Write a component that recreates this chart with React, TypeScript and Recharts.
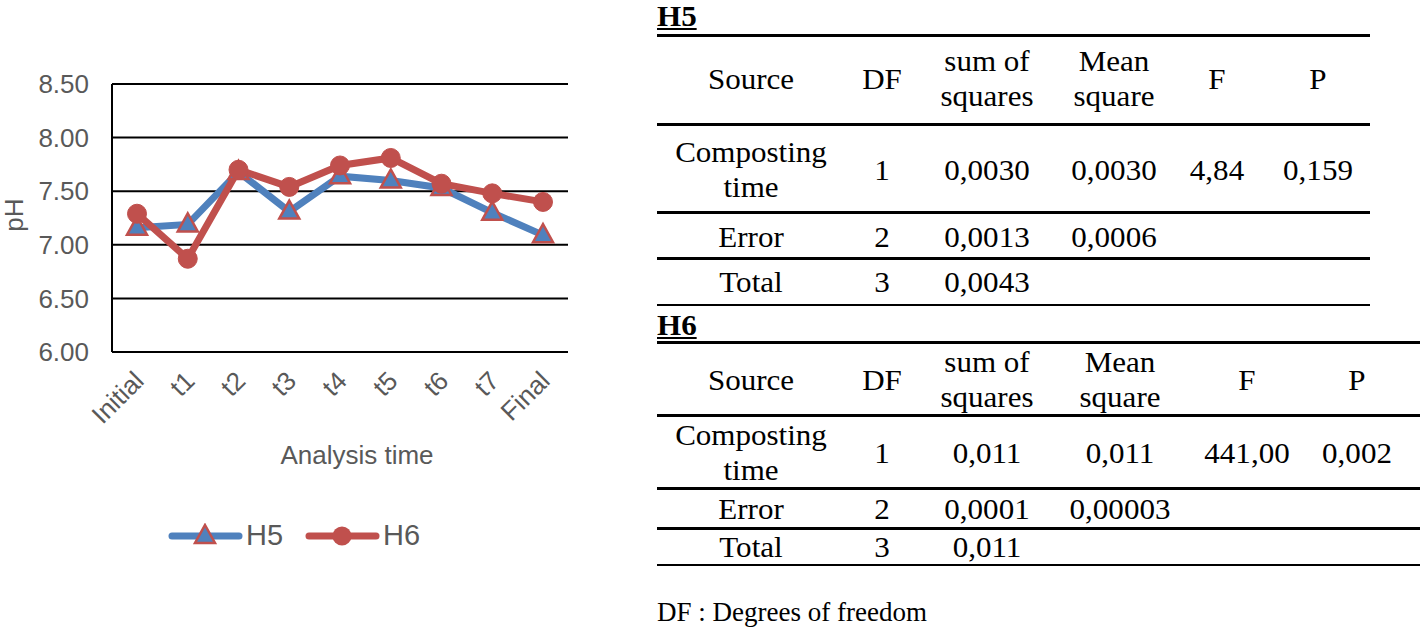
import { LineChart, Line, XAxis, YAxis, CartesianGrid, Label } from 'recharts'

// pH over composting time
const CATEGORIES = ['Initial', 't1', 't2', 't3', 't4', 't5', 't6', 't7', 'Final']
const H5_VALUES = [7.16, 7.19, 7.68, 7.31, 7.64, 7.6, 7.53, 7.3, 7.09]
const H6_VALUES = [7.29, 6.87, 7.7, 7.54, 7.74, 7.81, 7.57, 7.48, 7.4]
const Y_TICKS = [6, 6.5, 7, 7.5, 8, 8.5]

// ANOVA tables
const TABLE_HEADER = ['Source', 'DF', 'sum of\nsquares', 'Mean\nsquare', 'F', 'P']
const H5_ROWS = [
  ['Composting\ntime', '1', '0,0030', '0,0030', '4,84', '0,159'],
  ['Error', '2', '0,0013', '0,0006', '', ''],
  ['Total', '3', '0,0043', '', '', ''],
]
const H6_ROWS = [
  ['Composting\ntime', '1', '0,011', '0,011', '441,00', '0,002'],
  ['Error', '2', '0,0001', '0,00003', '', ''],
  ['Total', '3', '0,011', '', '', ''],
]

const BLUE = '#4F81BD'
const RED = '#C0504D'
const GREY = '#595959'
const SANS = '"Liberation Sans", Arial, sans-serif'
const SERIF = '"Liberation Serif", "Times New Roman", serif'

function XTick({ x, y, payload }: any) {
  return (
    <g transform={`translate(${x + 2},${y + 16}) rotate(-45)`}>
      <text textAnchor="end" dy="0.35em" fill={GREY} fontSize={26} fontFamily={SANS}>
        {payload.value}
      </text>
    </g>
  )
}

function TriangleDot({ cx, cy }: any) {
  if (cx == null || cy == null) return null
  return (
    <polygon
      points={`${cx},${cy - 11} ${cx + 10},${cy + 7} ${cx - 10},${cy + 7}`}
      fill={BLUE}
      stroke={RED}
      strokeWidth={2.5}
    />
  )
}

function AxisTitle(props: any) {
  const { x, y, width } = props.viewBox
  return (
    <text x={x + width / 2 + 17} y={y + 103} textAnchor="middle" dominantBaseline="central"
      fill={GREY} fontSize={26} fontFamily={SANS}>
      Analysis time
    </text>
  )
}

function PhTitle(props: any) {
  const { y, height } = props.viewBox
  const cy = y + height / 2 - 3
  return (
    <text x={14} y={cy} transform={`rotate(-90, 14, ${cy})`} textAnchor="middle"
      dominantBaseline="central" fill={GREY} fontSize={26} fontFamily={SANS}>
      pH
    </text>
  )
}

function LegendIcon({ kind }: { kind: 'tri' | 'circle' }) {
  const color = kind === 'tri' ? BLUE : RED
  return (
    <svg width={75} height={26} style={{ display: 'block' }}>
      <line x1={4} y1={13} x2={71} y2={13} stroke={color} strokeWidth={7} strokeLinecap="round" />
      {kind === 'tri' ? (
        <polygon points="37,2 47,20 27,20" fill={BLUE} stroke={RED} strokeWidth={2.5} />
      ) : (
        <circle cx={37} cy={13} r={9.5} fill={RED} />
      )}
    </svg>
  )
}

interface TableProps {
  title: string
  top: number
  cols: number[]
  rowY: number[]
  rules: number[]
  right: number
  rows: string[][]
}

function AnovaTable({ title, top, cols, rowY, rules, right, rows }: TableProps) {
  const all = [TABLE_HEADER, ...rows]
  return (
    <>
      <div style={{
        position: 'absolute', left: 657, top: top - 18, fontFamily: SERIF, fontSize: 29,
        fontWeight: 'bold', textDecoration: 'underline', lineHeight: '32px',
        transform: 'scaleX(1.07)', transformOrigin: 'left center',
      }}>
        {title}
      </div>
      {rules.map((r, i) => (
        <div key={i} style={{
          position: 'absolute', left: 657, top: r - 1.5, width: right - 657,
          height: i === rules.length - 1 ? 2 : 3, background: '#000',
        }} />
      ))}
      {all.map((row, ri) =>
        row.map((cell, ci) =>
          cell ? (
            <div key={`${ri}-${ci}`} style={{
              position: 'absolute', left: cols[ci], top: rowY[ri],
              transform: 'translate(-50%, -50%) scaleX(1.07)',
              fontFamily: SERIF, fontSize: 29, lineHeight: '35px', textAlign: 'center',
              whiteSpace: 'pre',
            }}>
              {cell}
            </div>
          ) : null,
        ),
      )}
    </>
  )
}

export default function App() {
  const data = CATEGORIES.map((name, i) => ({ name, H5: H5_VALUES[i], H6: H6_VALUES[i] }))

  return (
    <div style={{ position: 'relative', width: 1424, height: 628, background: '#fff', overflow: 'hidden' }}>
      <style>{'body{margin:0}'}</style>
      <div style={{ position: 'absolute', left: 0, top: 0 }}>
        <LineChart width={600} height={628} data={data} margin={{ top: 84, right: 32, left: 0, bottom: 0 }}>
          <CartesianGrid vertical={false} stroke="#000" strokeWidth={2} />
          <XAxis
            dataKey="name"
            height={276}
            interval={0}
            padding={{ left: 25, right: 25 }}
            axisLine={{ stroke: '#000', strokeWidth: 2 }}
            tickLine={false}
            tick={<XTick />}
          >
            <Label content={AxisTitle} />
          </XAxis>
          <YAxis
            domain={[6, 8.5]}
            ticks={Y_TICKS}
            width={112}
            axisLine={{ stroke: '#000', strokeWidth: 2 }}
            tickLine={false}
            tickMargin={17}
            tickFormatter={(v: number) => v.toFixed(2)}
            tick={{ fill: GREY, fontSize: 26, fontFamily: SANS }}
          >
            <Label content={PhTitle} />
          </YAxis>
          <Line
            type="linear"
            dataKey="H5"
            stroke={BLUE}
            strokeWidth={7}
            dot={<TriangleDot />}
            activeDot={false}
            isAnimationActive={false}
          />
          <Line
            type="linear"
            dataKey="H6"
            stroke={RED}
            strokeWidth={7}
            dot={{ r: 9.5, fill: RED, stroke: RED, strokeWidth: 1 }}
            activeDot={false}
            isAnimationActive={false}
          />
        </LineChart>
      </div>

      {/* legend */}
      <div style={{
        position: 'absolute', left: 168, top: 519, display: 'flex', alignItems: 'center',
        fontFamily: SANS, fontSize: 29, color: GREY,
      }}>
        <LegendIcon kind="tri" />
        <span style={{ marginLeft: 3, marginRight: 22 }}>H5</span>
        <LegendIcon kind="circle" />
        <span style={{ marginLeft: 3 }}>H6</span>
      </div>

      <AnovaTable
        title="H5"
        top={18}
        cols={[751, 882, 987, 1114, 1217, 1318]}
        rowY={[79, 170, 237, 282]}
        rules={[35, 124, 212, 258, 305]}
        right={1370}
        rows={H5_ROWS}
      />
      <AnovaTable
        title="H6"
        top={327}
        cols={[751, 882, 987, 1120, 1247, 1357]}
        rowY={[380, 453, 509, 547]}
        rules={[342, 415, 488, 528, 565]}
        right={1420}
        rows={H6_ROWS}
      />
      <div style={{
        position: 'absolute', left: 657, top: 612, transform: 'translateY(-50%)',
        fontFamily: SERIF, fontSize: 27, whiteSpace: 'nowrap',
      }}>
        DF : Degrees of freedom
      </div>
    </div>
  )
}
